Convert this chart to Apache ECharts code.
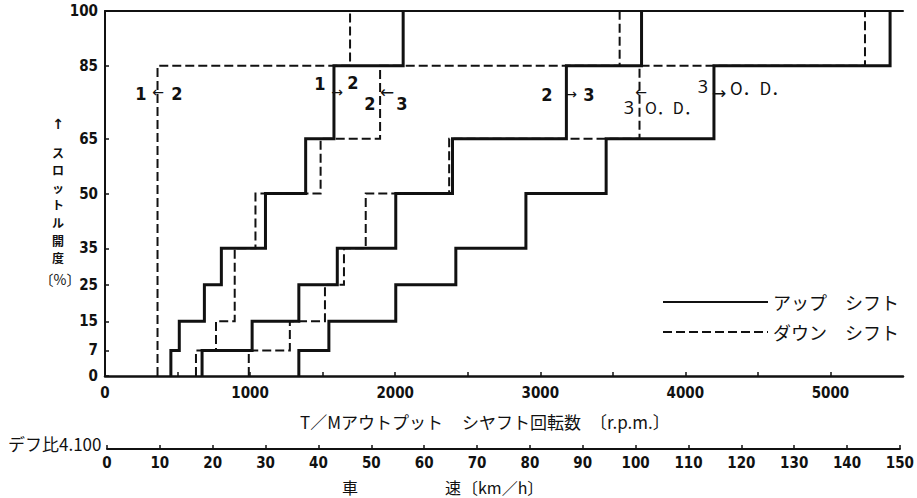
<!DOCTYPE html>
<html>
<head>
<meta charset="utf-8">
<script src="https://cdn.jsdelivr.net/npm/echarts@6/dist/echarts.min.js"></script>
<style>
html,body{margin:0;padding:0;background:#fff}
#chart{width:917px;height:498px}
</style>
</head>
<body>
<div id="chart"></div>
<script>
// スロットル開度 (%) の段
var levels = [0, 7, 15, 25, 35, 50, 65, 85, 100];
var levelsDown23 = [0, 7, 15, 35, 50, 65, 85, 100];
var levelsDown12 = [0, 85, 100];

// 変速点 (r.p.m.)  各段で次の段へ上がる位置
var up12 = [454, 512, 685, 802, 1106, 1383, 1578, 2055];
var up23 = [669, 1014, 1336, 1601, 2004, 2395, 3180, 3698];
var up3od = [1336, 1543, 2004, 2418, 2901, 3454, 4197, 5411];
var down12 = [362, 1689];
var down23 = [627, 765, 894, 1037, 1486, 1896, 3547];
var down3od = [991, 1274, 1516, 1647, 1797, 2372, 3684, 5238];

var rpmLabels = [0, 1000, 2000, 3000, 4000, 5000];
var rpmTicks = [500, 1000, 1500, 2000, 2500, 3000, 3500, 4000, 4500, 5000];
var speedTicks = [0, 10, 20, 30, 40, 50, 60, 70, 80, 90, 100, 110, 120, 130, 140, 150];

var UP = 'アップ　シフト';
var DOWN = 'ダウン　シフト';
var yName = ['ス', 'ロ', 'ッ', 'ト', 'ル', '開', '度'];

var numFont = "'Liberation Sans Narrow', 'DejaVu Sans Condensed', sans-serif";
var jpFont = "'Noto Sans CJK JP', sans-serif";
var ink = '#111';

// 段の頂点列を作る
function steps(rpm, lv) {
    var pts = [];
    for (let i = 0; i < rpm.length; i++) {
        pts.push([rpm[i], lv[i]]);
        pts.push([rpm[i], lv[i + 1]]);
    }
    return pts;
}

function stepSeries(name, rpm, lv, dashed) {
    return {
        name: name,
        type: 'line',
        xAxisIndex: 0,
        yAxisIndex: 0,
        data: steps(rpm, lv),
        symbol: 'none',
        clip: false,
        silent: true,
        itemStyle: {color: ink},
        lineStyle: {
            color: ink,
            width: dashed ? 2 : 3,
            type: dashed ? [9, 4] : 'solid',
            cap: 'butt',
            join: 'miter'
        }
    };
}

function txt(s, x, y, font, align) {
    return {
        type: 'text',
        x: x,
        y: y,
        silent: true,
        style: {
            text: s,
            fill: ink,
            font: font,
            align: align || 'center',
            verticalAlign: 'middle'
        }
    };
}

function plain(v) {
    return String(v);
}

var digitFont = 'bold 18px ' + numFont;
var jp17 = '17px ' + jpFont;
var jp16 = '16px ' + jpFont;
var arrowFont = "14px 'DejaVu Sans', sans-serif";
var odDigit = "18px 'Noto Sans', sans-serif";

var elements = [
    // 縦軸の名前
    txt('↑', 58, 124, "bold 14px 'DejaVu Sans', sans-serif"),
    txt('〔%〕', 60, 279, '14px ' + jpFont),

    // 変速の注記
    txt('1', 141, 93, digitFont),
    txt('←', 158, 92, arrowFont),
    txt('2', 177, 93, digitFont),

    txt('1', 320, 83, digitFont),
    txt('→', 337, 92, arrowFont),
    txt('2', 353, 82, digitFont),

    txt('2', 370, 103, digitFont),
    txt('←', 387, 92, "17px 'DejaVu Sans', sans-serif"),
    txt('3', 402, 103, digitFont),

    txt('2', 547, 94, digitFont),
    txt('→', 571, 94, arrowFont),
    txt('3', 589, 94, digitFont),

    txt('3', 629, 107, odDigit),
    txt('←', 641, 92, arrowFont),
    txt('O．D．', 645, 107, jp16, 'left'),

    txt('3', 703, 86, odDigit),
    txt('→', 719, 93, "17px 'DejaVu Sans', sans-serif"),
    txt('O．D．', 730, 87, jp17, 'left'),

    // 横軸の名前
    txt('T／Mアウトプット', 300, 421, jp17, 'left'),
    txt('シヤフト回転数', 462, 421, jp17, 'left'),
    txt('〔r.p.m.〕', 590, 421, jp17, 'left'),

    // 車速の目盛り
    txt('デフ比4.100', 8, 443, jp17, 'left'),
    txt('車', 350, 487, jp16),
    txt('速', 453, 487, jp16),
    txt('〔km／h〕', 462, 487, jp16, 'left')
];
yName.forEach(function (ch, i) {
    elements.push(txt(ch, 58, 152 + i * 17.6, 'bold 12px ' + jpFont));
});

var chart = echarts.init(document.querySelector('#chart'), null, {renderer: 'svg'});
chart.setOption({
    animation: false,
    backgroundColor: '#fff',
    grid: [
        {left: 105, top: 11, right: 14, height: 365},
        {left: 107, top: 448, right: 15, height: 1}
    ],
    xAxis: [
        {
            gridIndex: 0,
            type: 'value',
            min: 0,
            max: 5500,
            axisLine: {lineStyle: {color: ink, width: 2.5}},
            axisTick: {inside: true, length: 4, customValues: rpmTicks, lineStyle: {color: ink, width: 1.5}},
            axisLabel: {customValues: rpmLabels, formatter: plain, margin: 9, color: ink, fontSize: 15, fontWeight: 'bold', fontFamily: numFont},
            splitLine: {show: false}
        },
        {
            gridIndex: 0,
            type: 'value',
            position: 'top',
            min: 0,
            max: 5500,
            axisLine: {show: true, lineStyle: {color: ink, width: 2}},
            axisTick: {show: false},
            axisLabel: {show: false},
            splitLine: {show: false}
        },
        {
            gridIndex: 1,
            type: 'value',
            position: 'bottom',
            min: 0,
            max: 150,
            interval: 10,
            axisLine: {lineStyle: {color: ink, width: 2}},
            axisTick: {inside: true, length: 4, customValues: speedTicks, lineStyle: {color: ink, width: 1.5}},
            axisLabel: {customValues: speedTicks, formatter: plain, margin: 6, color: ink, fontSize: 15, fontWeight: 'bold', fontFamily: numFont},
            splitLine: {show: false}
        }
    ],
    yAxis: [
        {
            gridIndex: 0,
            type: 'value',
            min: 0,
            max: 100,
            axisLine: {show: true, lineStyle: {color: ink, width: 2}},
            axisTick: {show: true, inside: true, length: 4, customValues: levels, lineStyle: {color: ink, width: 1.5}},
            axisLabel: {customValues: levels, formatter: plain, margin: 7, color: ink, fontSize: 15, fontWeight: 'bold', fontFamily: numFont},
            splitLine: {show: false}
        },
        {
            gridIndex: 1,
            type: 'value',
            min: 0,
            max: 1,
            show: false
        }
    ],
    legend: {
        orient: 'vertical',
        left: 662,
        top: 292,
        padding: 0,
        itemGap: 10,
        itemWidth: 105,
        itemHeight: 14,
        selectedMode: false,
        itemStyle: {opacity: 0},
        textStyle: {fontSize: 18, lineHeight: 20, color: ink, fontFamily: jpFont},
        data: [UP, DOWN]
    },
    series: [
        stepSeries(UP, up12, levels, false),
        stepSeries(UP, up23, levels, false),
        stepSeries(UP, up3od, levels, false),
        stepSeries(DOWN, down12, levelsDown12, true),
        stepSeries(DOWN, down23, levelsDown23, true),
        stepSeries(DOWN, down3od, levels, true)
    ],
    graphic: {elements: elements}
});
</script>
</body>
</html>
